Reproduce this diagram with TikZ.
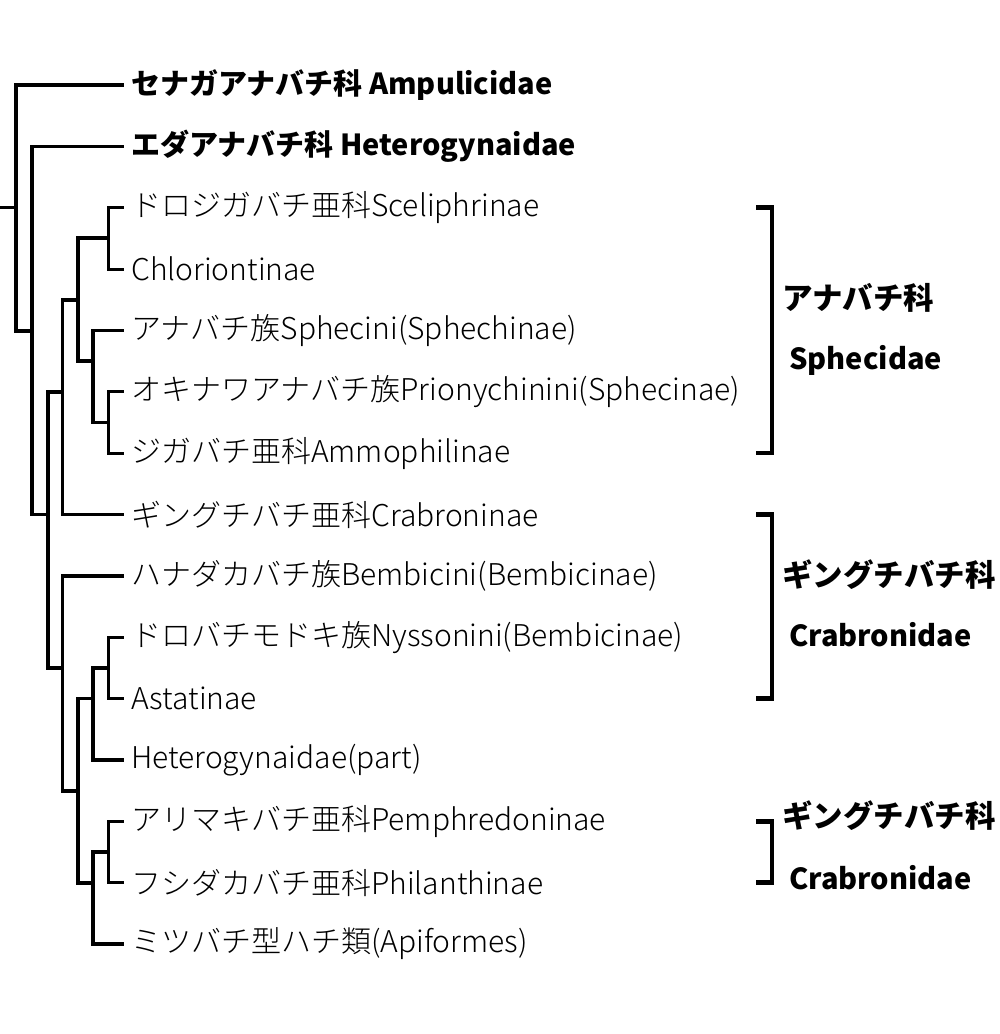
\documentclass[tikz,border=0pt]{standalone}
\usepackage{fontspec}
\setmainfont{Noto Sans CJK JP}
\newfontfamily\lightjp{Noto Sans CJK JP Light}
\usepackage{tikz}

\tikzset{
  branch/.style={line width=3.2pt, to path={|- (\tikztotarget)}},
  taxon/.style={anchor=west, inner xsep=7pt, inner ysep=0pt, font=\lightjp\fontsize{30}{36}\selectfont},
  bigtaxon/.style={taxon, font=\bfseries\fontsize{29}{36}\selectfont},
  family/.style={anchor=west, inner sep=0pt, font=\bfseries\fontsize{29}{36}\selectfont},
  familyjp/.style={family, font=\bfseries\fontsize{30.5}{36}\selectfont},
  bracket/.style={line width=4.5pt}
}

\begin{document}
\begin{tikzpicture}[x=1pt,y=-1pt]
  \useasboundingbox (0,0) rectangle (1000,1034);
  % taxa
  \node[bigtaxon] (t1) at (124,85.0) {セナガアナバチ科 Ampulicidae};
  \node[bigtaxon] (t2) at (124,146.4) {エダアナバチ科 Heterogynaidae};
  \node[taxon] (t3) at (124,207.7) {ドロジガバチ亜科Sceliphrinae};
  \node[taxon] (t4) at (124,269.1) {Chloriontinae};
  \node[taxon] (t5) at (124,330.4) {アナバチ族Sphecini(Sphechinae)};
  \node[taxon] (t6) at (124,391.8) {オキナワアナバチ族Prionychinini(Sphecinae)};
  \node[taxon] (t7) at (124,453.2) {ジガバチ亜科Ammophilinae};
  \node[taxon] (t8) at (124,514.5) {ギングチバチ亜科Crabroninae};
  \node[taxon] (t9) at (124,575.9) {ハナダカバチ族Bembicini(Bembicinae)};
  \node[taxon] (t10) at (124,637.2) {ドロバチモドキ族Nyssonini(Bembicinae)};
  \node[taxon] (t11) at (124,698.6) {Astatinae};
  \node[taxon] (t12) at (124,760.0) {Heterogynaidae(part)};
  \node[taxon] (t13) at (124,821.3) {アリマキバチ亜科Pemphredoninae};
  \node[taxon] (t14) at (124,882.7) {フシダカバチ亜科Philanthinae};
  \node[taxon] (t15) at (124,944.0) {ミツバチ型ハチ類(Apiformes)};

  % internal nodes
  \coordinate (stem) at (0,207.5);
  \coordinate (root) at (16,207.5);
  \coordinate (c2) at (32,331);
  \coordinate (c3) at (48,514.5);
  \coordinate (sph) at (62.5,392);
  \coordinate (sph1) at (78,300);
  \coordinate (sph2) at (108.5,238);
  \coordinate (sph3) at (93,361);
  \coordinate (sph4) at (108.5,422.5);
  \coordinate (cra) at (62.5,668);
  \coordinate (cra1) at (78,791);
  \coordinate (cra2) at (93,698.6);
  \coordinate (cra3) at (108.5,668);
  \coordinate (cra4) at (93,883);
  \coordinate (cra5) at (108.5,852);

  \draw[line width=3.2pt] (stem) -- (root);
  \path[branch]
    (root) edge (t1) edge (c2)
    (c2) edge (t2) edge (c3)
    (c3) edge (sph) edge (cra)
    (sph) edge (sph1) edge (t8)
    (sph1) edge (sph2) edge (sph3)
    (sph2) edge (t3) edge (t4)
    (sph3) edge (t5) edge (sph4)
    (sph4) edge (t6) edge (t7)
    (cra) edge (t9) edge (cra1)
    (cra1) edge (cra2) edge (cra4)
    (cra2) edge (cra3) edge (t12)
    (cra3) edge (t10) edge (t11)
    (cra4) edge (cra5) edge (t15)
    (cra5) edge (t13) edge (t14);

  % families
  \draw[bracket] (756,207.7) -| (772,453.2) -- (756,453.2);
  \draw[bracket] (756,514.5) -| (772,698.6) -- (756,698.6);
  \draw[bracket] (756,821.3) -| (772,882.7) -- (756,882.7);
  \node[familyjp] (f1) at (782,298) {アナバチ科};
  \node[family] (f1l) at (789,360) {Sphecidae};
  \node[familyjp] (f2) at (782,575) {ギングチバチ科};
  \node[family] (f2l) at (789,635) {Crabronidae};
  \node[familyjp] (f3) at (782,816) {ギングチバチ科};
  \node[family] (f3l) at (789,878) {Crabronidae};
\end{tikzpicture}
\end{document}
